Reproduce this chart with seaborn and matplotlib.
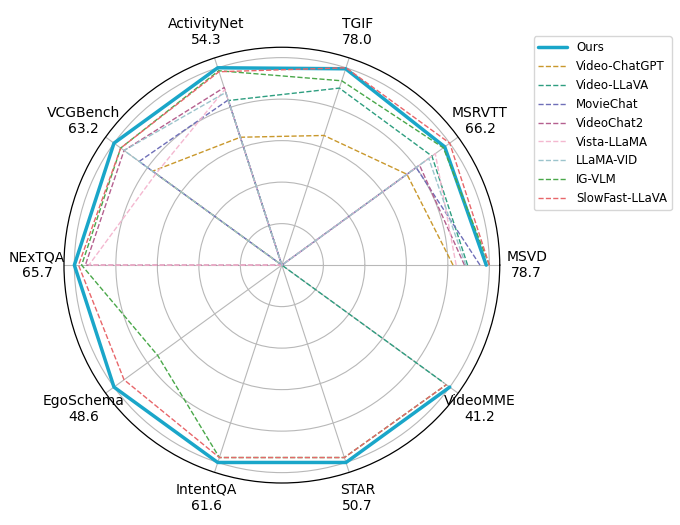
import numpy as np
import seaborn as sns
import matplotlib
matplotlib.use("Agg")
import matplotlib.pyplot as plt

# benchmark axes, counter-clockwise starting at 3 o'clock
benchmarks = ["MSVD", "MSRVTT", "TGIF", "ActivityNet", "VCGBench",
              "NExTQA", "EgoSchema", "IntentQA", "STAR", "VideoMME"]
ours_scores = ["78.7", "66.2", "78.0", "54.3", "63.2",
               "65.7", "48.6", "61.6", "50.7", "41.2"]

# values normalised by the best result on each benchmark (0 = not reported)
ours = [0.985, 0.97, 0.995, 1.0, 1.0, 1.0, 1.0, 1.0, 1.0, 1.0]
video_chatgpt = [0.825, 0.745, 0.657, 0.648, 0.77, 0, 0, 0, 0, 0]
video_llava = [0.895, 0.894, 0.897, 0.834, 0, 0, 0, 0, 0, 0.965]
moviechat = [0.955, 0.80, 0, 0.837, 0.85, 0, 0, 0, 0, 0]
videochat2 = [0.88, 0.82, 0, 0.90, 0.94, 0.947, 0, 0, 0, 0]
vista_llama = [0.84, 0.914, 0, 0.89, 0.75, 0.93, 0, 0, 0, 0]
llama_vid = [0.886, 0.875, 0, 0.875, 0.94, 0, 0, 0, 0, 0]
ig_vlm = [1.0, 0.962, 0.934, 0.985, 0.96, 0.965, 0.74, 0.975, 0.975, 0.98]
slowfast_llava = [1.0, 1.0, 1.0, 0.98, 0.96, 0.98, 0.94, 0.975, 0.975, 0.98]

baselines = [
    ("Video-ChatGPT", video_chatgpt, "#c9982c"),
    ("Video-LLaVA", video_llava, "#2e9e80"),
    ("MovieChat", moviechat, "#6f6fb8"),
    ("VideoChat2", videochat2, "#b5608f"),
    ("Vista-LLaMA", vista_llama, "#f4b8d0"),
    ("LLaMA-VID", llama_vid, "#9cc4cc"),
    ("IG-VLM", ig_vlm, "#4aa84a"),
    ("SlowFast-LLaVA", slowfast_llava, "#e8666a"),
]

sns.set_style("white")
plt.rcParams["text.color"] = "black"

angles = np.linspace(0, 2 * np.pi, len(benchmarks), endpoint=False)
theta = np.append(angles, angles[0])

fig = plt.figure(figsize=(6.8, 5.25), dpi=100)
ax = fig.add_axes([0.094, 0.080, 0.641, 0.830], projection="polar")

sns.lineplot(x=theta, y=ours + ours[:1], ax=ax, sort=False,
             color="#1aa6c9", linewidth=2.5, label="Ours")
for name, vals, col in baselines:
    sns.lineplot(x=theta, y=vals + vals[:1], ax=ax, sort=False,
                 color=col, linewidth=1.0, linestyle="--", label=name)

ax.set_ylim(0, 1.05)
ax.set_yticks([0.2, 0.4, 0.6, 0.8, 1.0])
ax.set_yticklabels([])
ax.set_xticks(angles)
ax.set_xticklabels([])
ax.set_xlabel("")
ax.set_ylabel("")
ax.grid(True, color="#b8b8b8", linewidth=0.8)
ax.spines["polar"].set_color("black")
ax.spines["polar"].set_linewidth(0.9)

for a, name, score in zip(angles, benchmarks, ours_scores):
    ax.text(a, 1.18, f"{name}\n{score}", ha="center", va="center",
            fontsize=10, color="black", clip_on=False)

ax.legend(loc="upper left", bbox_to_anchor=(0.776, 0.942),
          bbox_transform=fig.transFigure, fontsize=8.5,
          handlelength=2.4, frameon=True)

fig.savefig("out.png", dpi=100)
